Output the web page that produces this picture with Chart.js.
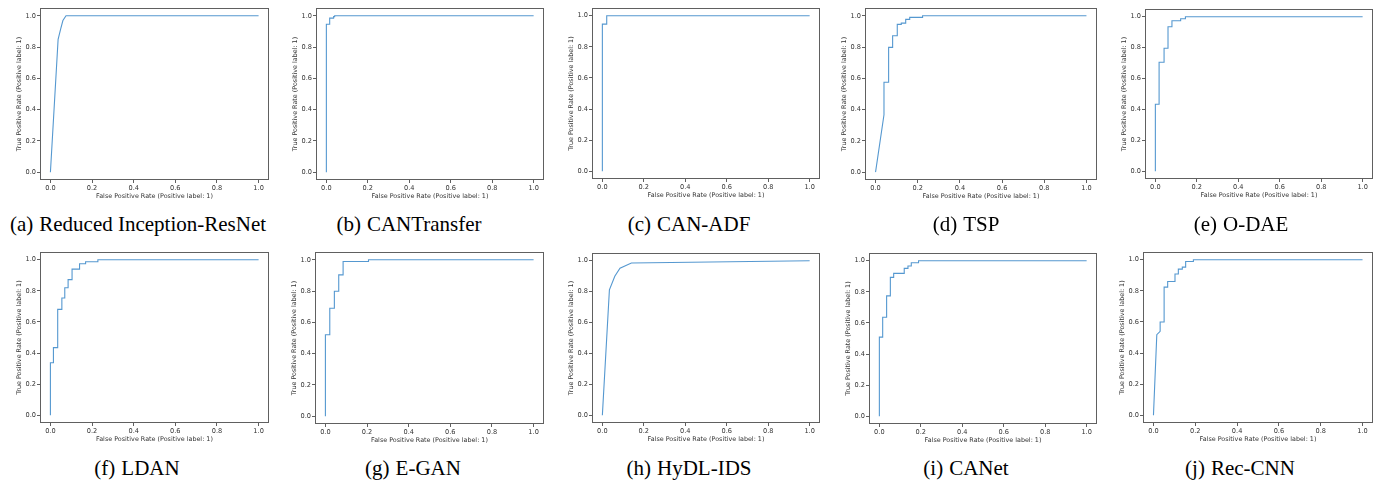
<!DOCTYPE html>
<html>
<head>
<meta charset="utf-8">
<script src="https://cdn.jsdelivr.net/npm/chart.js@4/dist/chart.umd.min.js"></script>
<style>
  html, body { margin: 0; padding: 0; background: #fff; }
  body { width: 1380px; height: 483px; position: relative; overflow: hidden; }
  .panel { position: absolute; }
  .cap { position: absolute; font-family: "Liberation Serif", "Times New Roman", serif; font-size: 21px; color: #000; white-space: nowrap; transform: translate(-50%, -50%); line-height: 1; }
  .cap .lbl { margin-right: 6px; }
</style>
</head>
<body>
<script>
// ---------- data ----------
const panelLabels = ['(a)', '(b)', '(c)', '(d)', '(e)', '(f)', '(g)', '(h)', '(i)', '(j)'];
const modelNames = ['Reduced Inception-ResNet', 'CANTransfer', 'CAN-ADF', 'TSP', 'O-DAE', 'LDAN', 'E-GAN', 'HyDL-IDS', 'CANet', 'Rec-CNN'];
const axisTicks = [0.0, 0.2, 0.4, 0.6, 0.8, 1.0];
const xTitle = 'False Positive Rate (Positive label: 1)';
const yTitle = 'True Positive Rate (Positive label: 1)';

const fprRIR = [0, 0.037, 0.05, 0.06, 0.075, 1];
const tprRIR = [0, 0.85, 0.92, 0.97, 1, 1];

const fprCANTransfer = [0, 0, 0.016, 0.016, 0.035, 0.035, 0.04, 0.04, 1];
const tprCANTransfer = [0, 0.946, 0.946, 0.985, 0.985, 0.995, 0.995, 1, 1];

const fprCANADF = [0, 0, 0.021, 0.021, 1];
const tprCANADF = [0, 0.946, 0.946, 1, 1];

const fprTSP = [0, 0.04, 0.04, 0.062, 0.062, 0.081, 0.081, 0.103, 0.103, 0.122, 0.122, 0.143, 0.143, 0.162, 0.162, 0.223, 0.223, 1];
const tprTSP = [0, 0.367, 0.575, 0.575, 0.798, 0.798, 0.873, 0.873, 0.945, 0.945, 0.953, 0.953, 0.977, 0.977, 0.99, 0.99, 1, 1];

const fprODAE = [0, 0, 0.018, 0.018, 0.042, 0.042, 0.061, 0.061, 0.08, 0.08, 0.122, 0.122, 0.145, 0.145, 1];
const tprODAE = [0, 0.434, 0.434, 0.705, 0.705, 0.796, 0.796, 0.935, 0.935, 0.974, 0.974, 0.987, 0.987, 1, 1];

const fprLDAN = [0, 0, 0.0145, 0.0145, 0.035, 0.035, 0.055, 0.055, 0.069, 0.069, 0.085, 0.085, 0.104, 0.104, 0.14, 0.14, 0.169, 0.169, 0.228, 0.228, 1];
const tprLDAN = [0, 0.338, 0.338, 0.435, 0.435, 0.681, 0.681, 0.754, 0.754, 0.82, 0.82, 0.872, 0.872, 0.94, 0.94, 0.974, 0.974, 0.987, 0.987, 1, 1];

const fprEGAN = [0, 0, 0.021, 0.021, 0.043, 0.043, 0.064, 0.064, 0.085, 0.085, 0.207, 0.207, 1];
const tprEGAN = [0, 0.521, 0.521, 0.69, 0.69, 0.799, 0.799, 0.904, 0.904, 0.989, 0.989, 1, 1];

const fprHyDL = [0, 0.034, 0.06, 0.085, 0.14, 1];
const tprHyDL = [0, 0.812, 0.9, 0.952, 0.985, 1];

const fprCANet = [0, 0, 0.016, 0.016, 0.035, 0.035, 0.053, 0.053, 0.069, 0.069, 0.12, 0.12, 0.138, 0.138, 0.154, 0.154, 0.189, 0.189, 1];
const tprCANet = [0, 0.509, 0.509, 0.637, 0.637, 0.774, 0.774, 0.893, 0.893, 0.919, 0.919, 0.951, 0.951, 0.966, 0.966, 0.987, 0.987, 1, 1];

const fprRecCNN = [0, 0.016, 0.032, 0.032, 0.051, 0.051, 0.068, 0.068, 0.103, 0.103, 0.119, 0.119, 0.138, 0.138, 0.154, 0.154, 0.191, 0.191, 1];
const tprRecCNN = [0, 0.518, 0.54, 0.6, 0.6, 0.824, 0.824, 0.86, 0.86, 0.908, 0.908, 0.94, 0.94, 0.953, 0.953, 0.989, 0.989, 1, 1];

const seriesFpr = [fprRIR, fprCANTransfer, fprCANADF, fprTSP, fprODAE, fprLDAN, fprEGAN, fprHyDL, fprCANet, fprRecCNN];
const seriesTpr = [tprRIR, tprCANTransfer, tprCANADF, tprTSP, tprODAE, tprLDAN, tprEGAN, tprHyDL, tprCANet, tprRecCNN];

// ---------- layout (plot box edges: left, right, top, bottom; caption centre) ----------
const boxes = [
  [40, 269, 8, 180], [316, 544, 8, 180], [592, 820, 8, 179], [865, 1097, 8, 180], [1145, 1373, 9, 179],
  [40, 269, 252, 423], [315, 544, 252, 424], [592, 820, 253, 423], [869, 1097, 253, 424], [1143, 1373, 252, 423]
];
const capPos = [
  [138, 224], [409, 224], [689, 224], [966, 224], [1241, 224],
  [137, 468], [413, 468], [689, 468], [966, 468], [1240, 468]
];

// ---------- drawing ----------
const LEFT_W = 40, PAD_T = 6, PAD_R = 6, BOTTOM_H = 24;
const frameColor = '#606060';
const textColor = '#333';
const lineColor = '#5598d0';

const framePlugin = {
  id: 'frameBox',
  afterDraw(chart) {
    const a = chart.chartArea, ctx = chart.ctx;
    ctx.save();
    ctx.strokeStyle = frameColor;
    ctx.lineWidth = 1;
    ctx.strokeRect(Math.round(a.left) + 0.5, Math.round(a.top) + 0.5, Math.round(a.right - a.left) - 1, Math.round(a.bottom - a.top) - 1);
    ctx.restore();
  }
};

function axisCfg(isX) {
  return {
    type: 'linear',
    min: -0.05,
    max: 1.05,
    afterBuildTicks(scale) { scale.ticks = axisTicks.map(v => ({ value: v })); },
    afterFit(scale) { if (isX) scale.height = BOTTOM_H; else scale.width = LEFT_W; },
    ticks: {
      color: textColor,
      font: { family: 'DejaVu Sans', size: 6.6 },
      padding: 1,
      maxRotation: 0,
      autoSkip: false,
      callback: v => Number(v).toFixed(1)
    },
    grid: { display: true, drawOnChartArea: false, drawTicks: true, tickLength: 3, color: frameColor, lineWidth: 1 },
    border: { display: false },
    title: {
      display: true,
      text: isX ? xTitle : yTitle,
      color: textColor,
      font: { family: 'DejaVu Sans', size: 6.4 },
      padding: isX ? { top: 4, bottom: 4 } : { top: 15.2, bottom: 15.2 }
    }
  };
}

for (let i = 0; i < modelNames.length; i++) {
  const [L, R, T, B] = boxes[i];
  const w = (R - L) + LEFT_W + PAD_R;
  const h = (B - T) + PAD_T + BOTTOM_H;
  const div = document.createElement('div');
  div.className = 'panel';
  div.style.left = (L - LEFT_W) + 'px';
  div.style.top = (T - PAD_T) + 'px';
  div.style.width = w + 'px';
  div.style.height = h + 'px';
  const cv = document.createElement('canvas');
  cv.width = w; cv.height = h;
  cv.style.width = w + 'px'; cv.style.height = h + 'px';
  div.appendChild(cv);
  document.body.appendChild(div);

  const pts = seriesFpr[i].map((x, k) => ({ x: x, y: seriesTpr[i][k] }));
  new Chart(cv.getContext('2d'), {
    type: 'scatter',
    data: {
      datasets: [{
        label: modelNames[i],
        data: pts,
        showLine: true,
        borderColor: lineColor,
        backgroundColor: lineColor,
        borderWidth: 1.1,
        pointRadius: 0,
        tension: 0,
        fill: false
      }]
    },
    options: {
      responsive: false,
      animation: false,
      devicePixelRatio: 1,
      layout: { padding: { left: 0, top: PAD_T, right: PAD_R, bottom: 0 } },
      plugins: { legend: { display: false }, tooltip: { enabled: false }, title: { display: false } },
      scales: { x: axisCfg(true), y: axisCfg(false) }
    },
    plugins: [framePlugin]
  });

  const cap = document.createElement('div');
  cap.className = 'cap';
  cap.style.left = capPos[i][0] + 'px';
  cap.style.top = capPos[i][1] + 'px';
  const lbl = document.createElement('span');
  lbl.className = 'lbl';
  lbl.textContent = panelLabels[i];
  cap.appendChild(lbl);
  cap.appendChild(document.createTextNode(modelNames[i]));
  document.body.appendChild(cap);
}
</script>
</body>
</html>
